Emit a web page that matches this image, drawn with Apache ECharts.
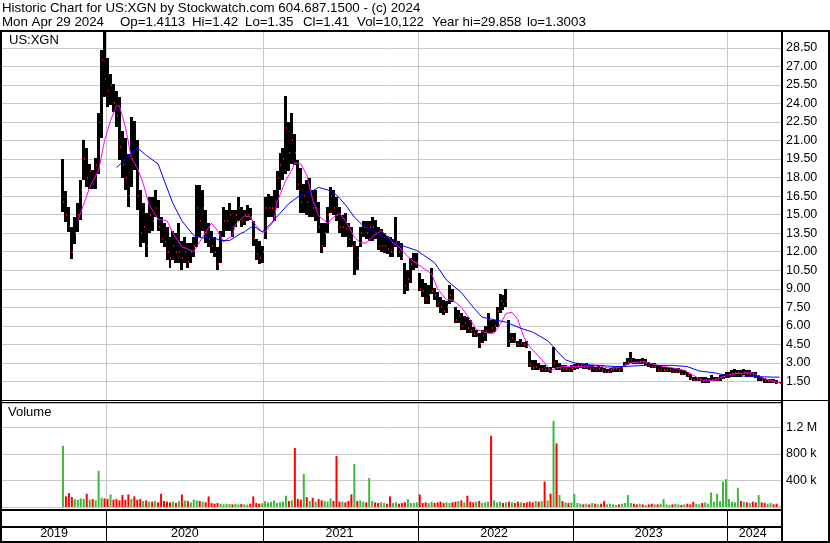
<!DOCTYPE html>
<html><head><meta charset="utf-8">
<script src="https://cdn.jsdelivr.net/npm/echarts/dist/echarts.min.js"></script>
<style>html,body{margin:0;padding:0;background:#fff}#c{width:830px;height:543px}</style>
</head><body><div id="c"></div>
<script>
// ---- data (weekly, weeks counted from Monday 2019-04-29) ----
const axisStartMonday = '2019-04-29';
const weekCount = 262;
const firstDataWeek = 20;

const high = [
19.5,16.9,15.6,14.0,14.8,15.9,17.8,21.0,20.4,19.1,
18.6,19.6,23.2,28.3,29.86,27.7,26.4,25.6,25.0,24.5,
21.8,21.2,19.9,22.9,22.6,21.0,17.0,15.9,15.1,16.4,
16.4,17.0,16.2,14.8,14.3,14.0,13.2,13.7,13.5,14.3,
12.9,13.2,12.7,12.7,13.2,17.4,17.4,17.0,15.4,14.3,
13.7,13.2,12.4,13.7,15.6,15.4,15.9,15.4,15.4,16.4,
15.6,15.4,15.8,15.5,14.5,13.0,12.9,12.5,16.4,16.7,
16.5,17.0,18.5,20.0,20.4,24.6,22.5,23.2,21.5,19.4,
18.8,17.5,17.8,18.0,17.0,17.0,16.0,14.3,14.3,15.6,
17.2,17.0,16.4,15.6,15.0,15.1,14.3,14.0,12.9,12.5,
14.0,14.5,14.5,14.5,14.8,14.6,14.0,13.8,13.5,13.3,
13.2,13.0,14.8,12.9,12.7,11.1,10.5,11.5,11.9,11.9,
10.3,9.8,9.5,9.3,10.7,9.1,8.7,8.3,8.1,8.0,
9.3,9.0,7.5,7.3,7.0,6.8,6.7,6.5,5.9,5.7,
5.4,5.7,6.0,7.0,6.5,6.5,7.5,8.6,8.5,9.0,
6.5,5.4,5.4,4.8,4.9,4.7,4.8,4.0,3.2,3.2,
3.0,2.8,2.8,2.7,2.7,4.3,3.2,3.0,2.8,2.8,
2.7,2.8,2.9,3.0,3.0,2.9,3.0,2.8,2.8,2.7,
2.8,2.7,2.6,2.5,2.6,2.7,2.7,2.7,2.7,3.1,
3.4,3.9,3.4,3.3,3.3,3.4,3.3,3.1,3.0,3.0,
2.8,2.8,2.7,2.7,2.7,2.6,2.6,2.6,2.4,2.4,
2.3,2.1,1.9,1.9,1.9,1.9,1.9,1.8,2.0,1.9,
1.9,2.0,2.1,2.3,2.3,2.4,2.5,2.4,2.4,2.5,
2.4,2.4,2.3,2.3,2.0,1.9,1.8,1.7,1.7,1.7,
1.6,1.42];

const low = [
15.2,14.4,13.6,11.4,12.6,13.6,14.6,17.8,17.2,17.1,
17.1,17.1,18.3,21.2,24.5,23.7,23.9,23.3,22.1,19.4,
18.0,17.0,15.6,17.2,18.6,15.4,12.4,12.7,11.6,13.5,
13.7,14.8,13.7,12.7,12.4,11.3,10.7,11.3,11.1,11.1,
10.5,11.1,10.7,11.1,11.6,12.4,13.2,13.7,12.7,12.4,
11.9,11.6,10.5,11.1,13.2,13.7,13.7,13.2,14.0,14.5,
14.0,14.2,14.5,14.6,12.5,11.3,11.0,11.1,13.0,14.8,
14.8,14.5,15.5,17.0,17.8,18.3,18.5,19.1,19.0,17.0,
15.1,15.1,15.0,14.8,14.8,14.5,13.5,11.9,12.4,13.5,
15.1,15.0,14.5,13.5,13.2,13.2,12.4,12.4,10.1,10.5,
12.4,13.2,13.0,12.9,12.9,13.0,12.1,12.0,11.9,11.8,
11.6,11.6,12.4,11.6,11.3,8.6,8.8,9.5,10.5,10.7,
8.8,8.3,7.8,7.8,8.6,8.1,7.5,7.0,6.9,7.0,
7.8,7.9,6.2,6.2,5.7,5.7,5.4,5.4,5.1,5.1,
4.2,4.6,4.8,5.4,5.4,5.5,5.9,7.0,7.3,7.5,
4.3,4.6,4.6,4.3,4.3,4.3,4.2,2.7,2.4,2.4,
2.4,2.3,2.3,2.3,2.2,2.6,2.4,2.4,2.3,2.3,
2.3,2.3,2.4,2.5,2.6,2.5,2.5,2.4,2.3,2.3,
2.3,2.3,2.2,2.2,2.2,2.3,2.3,2.3,2.3,2.7,
2.8,3.0,2.9,2.9,2.9,2.9,2.8,2.7,2.6,2.6,
2.3,2.3,2.3,2.3,2.3,2.2,2.2,2.2,2.0,2.0,
1.9,1.6,1.5,1.5,1.5,1.4,1.4,1.4,1.5,1.5,
1.5,1.5,1.7,1.8,1.8,1.9,1.9,1.9,1.9,2.0,
1.9,1.9,1.9,1.8,1.5,1.5,1.4,1.4,1.4,1.35,
1.3,1.35];

const close = [
16.0,15.0,14.0,12.0,13.5,15.0,17.0,19.5,18.0,18.5,
17.5,19.0,22.5,27.5,26.0,25.0,25.5,24.0,23.0,20.5,
19.0,18.0,16.5,19.5,19.0,16.5,13.5,14.0,12.5,15.0,
14.5,15.5,14.0,13.0,12.8,12.0,11.5,12.5,12.0,12.0,
11.5,12.0,11.2,12.0,12.5,15.5,14.5,15.5,13.5,13.0,
12.5,12.0,11.0,13.0,14.5,14.5,15.0,14.0,15.0,15.5,
14.5,15.0,15.0,14.8,13.0,11.8,11.5,12.0,15.5,15.5,
15.5,16.0,18.0,19.0,19.5,22.0,20.0,21.0,20.0,17.5,
16.0,16.5,16.0,17.0,15.5,15.5,14.0,12.5,13.5,15.0,
16.5,15.5,15.0,14.0,14.0,13.8,13.0,12.5,12.6,11.5,
13.5,14.0,13.5,14.0,14.0,13.5,12.5,12.5,12.5,12.2,
12.0,12.0,12.8,12.0,11.5,9.2,9.8,11.0,11.2,11.2,
9.0,8.8,8.2,8.5,8.8,8.5,7.8,7.5,7.2,7.5,
8.5,8.0,6.5,6.8,6.0,6.2,5.8,5.6,5.3,5.4,
4.6,5.2,5.6,6.5,5.8,6.0,7.2,8.0,7.8,8.0,
4.8,5.0,4.8,4.5,4.6,4.5,4.4,2.9,2.6,2.7,
2.5,2.5,2.4,2.4,2.3,3.0,2.6,2.6,2.5,2.5,
2.4,2.5,2.7,2.8,2.8,2.7,2.7,2.5,2.5,2.4,
2.5,2.4,2.3,2.3,2.4,2.5,2.5,2.4,2.6,2.9,
3.1,3.2,3.1,3.0,3.1,3.0,3.0,2.8,2.7,2.7,
2.4,2.4,2.4,2.4,2.4,2.3,2.3,2.3,2.1,2.1,
2.0,1.7,1.6,1.6,1.6,1.5,1.5,1.6,1.6,1.6,
1.6,1.8,1.9,2.0,2.0,2.1,2.2,2.3,2.1,2.2,
2.1,2.1,2.0,1.9,1.95,1.6,1.5,1.5,1.5,1.45,
1.4,1.41];

// volume in thousands (largest daily volume seen in each week)
const volumeK = [
924,160,210,150,120,110,130,120,200,110,
120,100,546,140,130,120,190,110,120,100,
180,110,190,120,160,110,120,90,100,80,
80,90,70,200,90,80,70,80,60,90,
190,100,90,70,110,100,90,80,70,160,
60,50,60,50,40,50,45,40,50,40,
45,40,35,50,160,60,50,55,90,70,
80,100,60,70,80,170,90,100,890,120,
110,498,150,90,140,80,120,100,90,80,
130,90,770,80,80,70,90,190,650,90,
100,80,70,438,90,70,60,70,60,50,
160,60,70,50,60,70,120,60,60,70,
190,60,70,60,80,60,70,80,60,70,
60,70,80,90,100,70,170,80,70,80,
90,60,70,80,1076,100,70,80,60,70,
80,70,60,80,70,60,70,80,70,90,
80,90,385,100,200,1300,960,180,90,70,
60,70,200,60,50,40,50,40,60,50,
40,50,90,40,50,40,30,40,50,60,
180,60,50,40,50,40,30,40,50,40,
40,50,120,40,30,40,50,40,30,40,
50,40,80,50,40,60,70,50,220,80,
200,90,385,420,120,80,70,290,90,80,
70,60,80,70,180,70,60,50,60,40,
50,10];

// moving averages: [week, value]
const maShort = [[25,14.5],[29,17.2],[32,18.6],[34,21.0],[36,22.6],[38,23.8],[39,23.8],[41,22.1],[43,19.6],[45,18.8],[47,17.5],[49,15.8],[52,14.6],[55,14.5],[57,13.5],[60,12.4],[64,12.0],[67,13.2],[70,14.3],[72,13.7],[74,12.8],[77,13.3],[78,14.2],[81,14.9],[83,14.8],[85,14.1],[87,13.6],[88,13.6],[91,14.5],[92,16.0],[95,17.8],[97,18.6],[98,19.2],[100,19.1],[102,18.2],[104,16.2],[106,14.9],[109,14.3],[111,14.8],[113,15.1],[115,14.5],[118,13.2],[120,12.7],[122,12.7],[124,13.2],[127,13.7],[129,13.3],[131,12.7],[133,12.4],[136,11.6],[138,11.2],[141,10.7],[144,10.2],[146,9.0],[149,8.1],[151,8.1],[154,7.5],[157,6.5],[159,5.7],[163,5.4],[165,5.4],[167,6.1],[169,7.0],[171,7.1],[173,6.5],[175,5.1],[177,4.3],[179,3.8],[182,3.0],[184,2.4],[186,2.6],[188,2.7],[192,2.7],[196,2.75],[201,2.75],[203,2.6],[206,2.6],[208,2.7],[211,3.0],[215,3.1],[217,3.0],[222,2.7],[225,2.6],[229,2.4],[232,2.0],[235,1.6],[239,1.6],[242,1.9],[245,2.1],[250,2.2],[252,2.2],[255,1.8],[260,1.45],[261,1.4]];
const maLong = [[38,18.8],[45,20.4],[48,19.8],[52,19.1],[54,17.8],[57,15.9],[60,14.5],[64,13.3],[67,13.1],[69,13.3],[73,12.9],[76,12.9],[80,13.5],[81,13.6],[84,14.1],[87,13.6],[90,14.3],[93,15.1],[96,15.9],[100,16.6],[103,16.8],[106,17.2],[109,17.0],[112,16.6],[115,15.8],[118,14.8],[121,14.1],[124,13.7],[128,13.2],[131,12.8],[134,12.5],[139,12.1],[145,11.1],[149,9.7],[154,8.7],[158,7.5],[161,6.7],[165,6.5],[169,6.3],[174,5.8],[178,5.5],[183,4.8],[185,4.3],[186,4.0],[188,3.5],[189,3.25],[192,3.0],[197,2.85],[203,2.75],[207,2.7],[212,2.75],[216,2.8],[221,2.8],[225,2.8],[230,2.7],[234,2.35],[239,2.2],[243,2.0],[248,1.95],[252,1.9],[259,1.85],[261,1.85]];

const headerLine1 = 'Historic Chart for US:XGN by Stockwatch.com 604.687.1500 - (c) 2024';
const headerLine2 = ['Mon Apr 29 2024','Op=1.4113','Hi=1.42','Lo=1.35','Cl=1.41','Vol=10,122','Year hi=29.858','lo=1.3003'];
const symbolLabel = 'US:XGN';
const volumeLabel = 'Volume';

// ---- build ----
const weeks = [];
const startMs = Date.parse(axisStartMonday + 'T00:00:00Z');
for (let i = 0; i < weekCount; i++) weeks.push(new Date(startMs + i * 7 * 864e5).toISOString().slice(0, 10));
const isoYear = d => new Date(Date.parse(d + 'T00:00:00Z') + 3 * 864e5).getUTCFullYear();
const yearStarts = new Set();
const yearSpan = {};
weeks.forEach((d, i) => {
  const y = isoYear(d);
  if (i > 0 && y !== isoYear(weeks[i - 1])) yearStarts.add(i);
  if (!yearSpan[y]) yearSpan[y] = [i, i]; else yearSpan[y][1] = i;
});
const yearLabelIdx = new Set(Object.values(yearSpan).map(s => Math.floor((s[0] + s[1]) / 2)));

const ohlc = high.map((h, k) => [firstDataWeek + k, h, low[k], close[k]]);
const volData = weeks.map((d, i) => {
  const k = i - firstDataWeek;
  if (k < 0 || k >= volumeK.length) return null;
  const up = k === 0 || close[k] >= close[k - 1];
  return { value: volumeK[k], itemStyle: { color: up ? '#3cb83c' : '#ff0000' } };
});

const FONT = '"Liberation Sans", Arial, sans-serif';
const gray = '#c8c8c8';
function weekAxis(gridIndex, lineColor, extra) {
  return Object.assign({
    type: 'category', gridIndex, data: weeks, boundaryGap: true,
    axisLine: { show: false }, axisTick: { show: false }, axisLabel: { show: false },
    splitLine: { show: true, interval: (i) => yearStarts.has(i), lineStyle: { color: lineColor, width: 1 } }
  }, extra || {});
}

const chart = echarts.init(document.getElementById('c'), null, { renderer: 'canvas' });
const blk = (x, y, w, h) => ({ type: 'rect', shape: { x, y, width: w, height: h }, style: { fill: '#000' }, z: 100, silent: true });
const txt = (x, y, text, size) => ({ type: 'text', x, y, z: 100, silent: true, style: { text, fill: '#000', font: size + 'px ' + FONT, verticalAlign: 'top', align: 'left' } });
const header2X = [2, 120, 192, 245, 303, 357, 432, 527];

chart.setOption({
  animation: false,
  backgroundColor: '#fff',
  grid: [
    { left: 2, right: 49, top: 31, height: 369, containLabel: false, outerBoundsMode: 'none' },
    { left: 2, right: 49, top: 403, height: 104, containLabel: false, outerBoundsMode: 'none' },
    { left: 2, right: 49, top: 509, height: 32, containLabel: false, outerBoundsMode: 'none' }
  ],
  xAxis: [
    weekAxis(0, gray),
    weekAxis(1, gray, { axisLabel: { show: true, interval: (i) => yearLabelIdx.has(i), formatter: (v) => String(isoYear(v)), margin: 20, color: '#000', fontSize: 12.5, fontFamily: FONT } }),
    weekAxis(2, '#000')
  ],
  yAxis: [
    { type: 'value', gridIndex: 0, position: 'right', min: 0, max: 29.858, interval: 1.5,
      axisLine: { show: false }, axisTick: { show: false },
      splitLine: { lineStyle: { color: gray } },
      axisLabel: { margin: 5, formatter: v => v.toFixed(2), showMinLabel: false, showMaxLabel: false, color: '#000', fontSize: 12.5, fontFamily: FONT } },
    { type: 'value', gridIndex: 1, position: 'right', min: 0, max: 1570, interval: 400,
      axisLine: { show: false }, axisTick: { show: false },
      splitLine: { lineStyle: { color: gray } },
      axisLabel: { margin: 5, formatter: v => v >= 1000 ? (v / 1000) + ' M' : v + ' k', showMinLabel: false, showMaxLabel: false, color: '#000', fontSize: 12.5, fontFamily: FONT } },
    { type: 'value', gridIndex: 2, show: false, min: 0, max: 1 }
  ],
  series: [
    { type: 'custom', xAxisIndex: 0, yAxisIndex: 0, data: ohlc, encode: { x: 0, y: [1, 2] }, clip: true,
      renderItem: (params, api) => {
        const i = api.value(0);
        const t = api.coord([i, api.value(1)]), b = api.coord([i, api.value(2)]), c = api.coord([i, api.value(3)]);
        const bw = api.size([1, 0])[0];
        const xl = Math.round(t[0] - bw / 2), xr = Math.round(t[0] + bw / 2);
        const y0 = Math.round(t[1]), y1 = Math.max(Math.round(b[1]), y0 + 1);
        return { type: 'group', children: [
          { type: 'rect', shape: { x: xl, y: y0, width: xr - xl, height: y1 - y0 }, style: { fill: '#000' } },
          { type: 'rect', shape: { x: xr - 1, y: Math.round(c[1]) - 1, width: 1, height: 2 }, style: { fill: '#ff0000' } }
        ] };
      } },
    { type: 'line', xAxisIndex: 0, yAxisIndex: 0, data: maShort, showSymbol: false, symbol: 'none', lineStyle: { color: '#ff00ff', width: 1 }, z: 5 },
    { type: 'line', xAxisIndex: 0, yAxisIndex: 0, data: maLong, showSymbol: false, symbol: 'none', lineStyle: { color: '#0000ff', width: 1 }, z: 5 },
    { type: 'bar', xAxisIndex: 1, yAxisIndex: 1, data: volData, barWidth: 2 }
  ],
  graphic: [
    txt(2, 2, headerLine1, 13.3),
    ...headerLine2.map((s, k) => txt(header2X[k], 16, s, 13.3)),
    txt(9, 34, symbolLabel, 13),
    txt(8, 406, volumeLabel, 13),
    blk(0, 30, 830, 2),
    blk(0, 30, 2, 513),
    blk(828, 30, 2, 513),
    blk(0, 541, 830, 2),
    blk(781, 30, 2, 513),
    blk(0, 400, 830, 1),
    blk(0, 402, 781, 1),
    blk(0, 509, 781, 2),
    blk(0, 526, 781, 2)
  ]
});
</script></body></html>
